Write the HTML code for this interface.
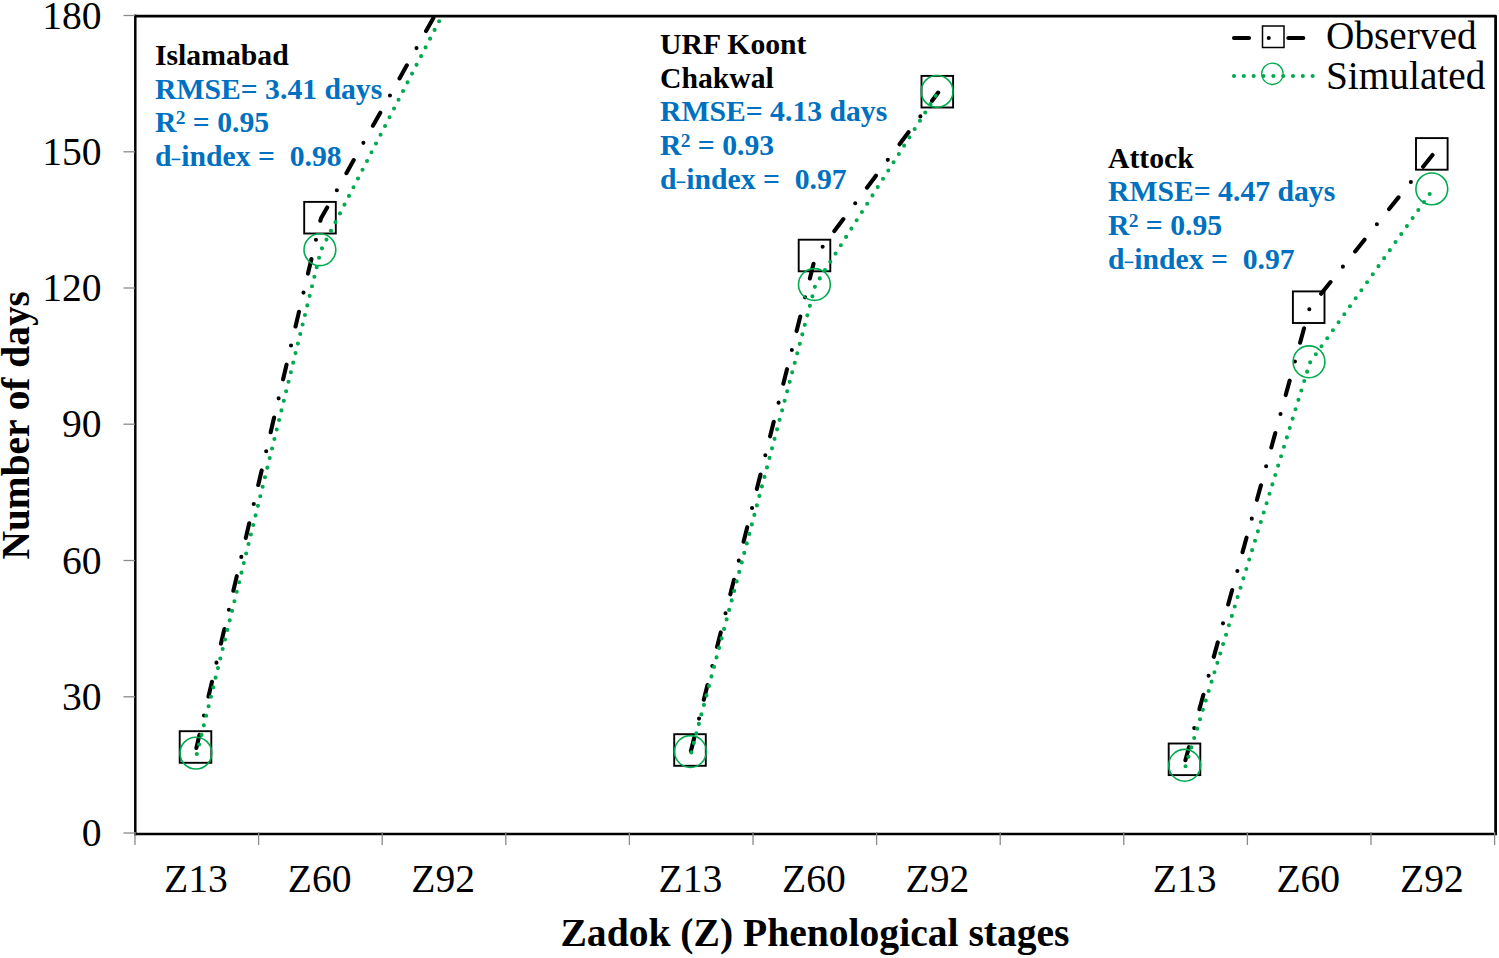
<!DOCTYPE html>
<html><head><meta charset="utf-8"><title>Chart</title>
<style>
html,body{margin:0;padding:0;background:#fff;overflow:hidden;}
svg{display:block;}
text{font-family:"Liberation Serif",serif;}
</style></head><body>
<svg width="1499" height="958" viewBox="0 0 1499 958">
<rect x="0" y="0" width="1499" height="958" fill="#fff"/>
<defs><clipPath id="pc"><rect x="135" y="16" width="1360.5" height="818"/></clipPath></defs>

<g fill="none" stroke="#000">
<path d="M134,16 H1495.6 V835" stroke-width="2.75" stroke-linejoin="round"/>
<line x1="135.3" y1="14.7" x2="135.3" y2="835.2" stroke-width="2.5"/>
<line x1="134" y1="834" x2="1497" y2="834" stroke-width="2.3"/>
</g>
<g stroke="#8a8a8a" stroke-width="1.3">
<line x1="123.5" y1="833.0" x2="135" y2="833.0"/>
<line x1="123.5" y1="696.8" x2="135" y2="696.8"/>
<line x1="123.5" y1="560.5" x2="135" y2="560.5"/>
<line x1="123.5" y1="424.2" x2="135" y2="424.2"/>
<line x1="123.5" y1="288.0" x2="135" y2="288.0"/>
<line x1="123.5" y1="151.8" x2="135" y2="151.8"/>
<line x1="123.5" y1="15.5" x2="135" y2="15.5"/>
<line x1="135.0" y1="832" x2="135.0" y2="845"/>
<line x1="258.6" y1="832" x2="258.6" y2="845"/>
<line x1="382.2" y1="832" x2="382.2" y2="845"/>
<line x1="505.8" y1="832" x2="505.8" y2="845"/>
<line x1="629.4" y1="832" x2="629.4" y2="845"/>
<line x1="753.0" y1="832" x2="753.0" y2="845"/>
<line x1="876.6" y1="832" x2="876.6" y2="845"/>
<line x1="1000.2" y1="832" x2="1000.2" y2="845"/>
<line x1="1123.8" y1="832" x2="1123.8" y2="845"/>
<line x1="1247.4" y1="832" x2="1247.4" y2="845"/>
<line x1="1371.0" y1="832" x2="1371.0" y2="845"/>
<line x1="1494.6" y1="832" x2="1494.6" y2="845"/>
</g>
<g font-size="39.6" text-anchor="end" fill="#000">
<text x="101.6" y="846.2">0</text>
<text x="101.6" y="710.0">30</text>
<text x="101.6" y="573.7">60</text>
<text x="101.6" y="437.4">90</text>
<text x="101.6" y="301.2">120</text>
<text x="101.6" y="164.9">150</text>
<text x="101.6" y="28.7">180</text>
</g>
<g font-size="39.6" text-anchor="middle" fill="#000">
<text x="196.0" y="891.5">Z13</text>
<text x="319.6" y="891.5">Z60</text>
<text x="443.2" y="891.5">Z92</text>
<text x="690.4" y="891.5">Z13</text>
<text x="814.0" y="891.5">Z60</text>
<text x="937.5" y="891.5">Z92</text>
<text x="1184.7" y="891.5">Z13</text>
<text x="1308.3" y="891.5">Z60</text>
<text x="1431.9" y="891.5">Z92</text>
</g>
<text x="815" y="945.7" font-size="39.6" font-weight="bold" text-anchor="middle">Zadok (Z) Phenological stages</text>
<text transform="translate(29,425.3) rotate(-90)" font-size="39.4" font-weight="bold" text-anchor="middle">Number of days</text>
<g clip-path="url(#pc)">
<polyline points="196.4,747.9 320.9,218.6 444.5,-1.8" fill="none" stroke="#000" stroke-width="4.1" stroke-linecap="round" stroke-linejoin="round" stroke-dasharray="15 19.75 0 19.55" stroke-dashoffset="1.45"/>
<rect x="179.7" y="731.2" width="31.6" height="31.6" fill="none" stroke="#000" stroke-width="1.9"/>
<rect x="304.2" y="201.9" width="31.6" height="31.6" fill="none" stroke="#000" stroke-width="1.9"/>
<polyline points="690.9,750.9 815.4,256.4 938.2,92.6" fill="none" stroke="#000" stroke-width="4.1" stroke-linecap="round" stroke-linejoin="round" stroke-dasharray="15 19.75 0 19.55" stroke-dashoffset="1.45"/>
<rect x="674.2" y="734.2" width="31.6" height="31.6" fill="none" stroke="#000" stroke-width="1.9"/>
<rect x="798.7" y="239.7" width="31.6" height="31.6" fill="none" stroke="#000" stroke-width="1.9"/>
<rect x="921.5" y="75.9" width="31.6" height="31.6" fill="none" stroke="#000" stroke-width="1.9"/>
<polyline points="1185.4,760.2 1309.6,308.1 1432.7,154.8" fill="none" stroke="#000" stroke-width="4.1" stroke-linecap="round" stroke-linejoin="round" stroke-dasharray="15 19.75 0 19.55" stroke-dashoffset="1.45"/>
<rect x="1168.7" y="743.5" width="31.6" height="31.6" fill="none" stroke="#000" stroke-width="1.9"/>
<rect x="1292.9" y="291.4" width="31.6" height="31.6" fill="none" stroke="#000" stroke-width="1.9"/>
<rect x="1416.0" y="138.1" width="31.6" height="31.6" fill="none" stroke="#000" stroke-width="1.9"/>
<polyline points="196.8,754.0 320.8,250.6 444.5,10.7" fill="none" stroke="#00aa4e" stroke-width="4.1" stroke-linecap="round" stroke-linejoin="round" stroke-dasharray="0 9.83"/>
<circle cx="195.9" cy="753.1" r="15.9" fill="none" stroke="#00aa4e" stroke-width="1.6"/>
<circle cx="319.9" cy="249.7" r="15.9" fill="none" stroke="#00aa4e" stroke-width="1.6"/>
<polyline points="691.3,752.4 815.3,285.4 938.0,92.3" fill="none" stroke="#00aa4e" stroke-width="4.1" stroke-linecap="round" stroke-linejoin="round" stroke-dasharray="0 9.83"/>
<circle cx="690.4" cy="751.5" r="15.9" fill="none" stroke="#00aa4e" stroke-width="1.6"/>
<circle cx="814.4" cy="284.5" r="15.9" fill="none" stroke="#00aa4e" stroke-width="1.6"/>
<circle cx="937.1" cy="91.4" r="15.9" fill="none" stroke="#00aa4e" stroke-width="1.6"/>
<polyline points="1185.5,766.2 1309.9,362.7 1432.7,189.8" fill="none" stroke="#00aa4e" stroke-width="4.1" stroke-linecap="round" stroke-linejoin="round" stroke-dasharray="0 9.83"/>
<circle cx="1184.6" cy="765.3" r="15.9" fill="none" stroke="#00aa4e" stroke-width="1.6"/>
<circle cx="1309.0" cy="361.8" r="15.9" fill="none" stroke="#00aa4e" stroke-width="1.6"/>
<circle cx="1431.8" cy="188.9" r="15.9" fill="none" stroke="#00aa4e" stroke-width="1.6"/>
</g>
<text x="155" y="64.7" font-size="29.7" font-weight="bold" style="white-space:pre" fill="#000">Islamabad</text>
<text x="155" y="98.6" font-size="29.7" font-weight="bold" style="white-space:pre" fill="#0070c0">RMSE= 3.41 days</text>
<text x="155" y="132.4" font-size="29.7" font-weight="bold" style="white-space:pre" fill="#0070c0">R<tspan font-size="19.5" dx="-0.8" dy="-8.5">2</tspan><tspan dy="8.5"> = </tspan>0.95</text>
<text x="155" y="166.2" font-size="29.7" font-weight="bold" style="white-space:pre" fill="#0070c0">d<tspan dx="9.7">index =  0.98</tspan></text>
<rect x="171.7" y="158.60" width="8.7" height="1.6" fill="#0070c0"/>
<text x="660" y="53.7" font-size="29.7" font-weight="bold" style="white-space:pre" fill="#000">URF Koont</text>
<text x="660" y="87.6" font-size="29.7" font-weight="bold" style="white-space:pre" fill="#000">Chakwal</text>
<text x="660" y="121.4" font-size="29.7" font-weight="bold" style="white-space:pre" fill="#0070c0">RMSE= 4.13 days</text>
<text x="660" y="155.2" font-size="29.7" font-weight="bold" style="white-space:pre" fill="#0070c0">R<tspan font-size="19.5" dx="-0.8" dy="-8.5">2</tspan><tspan dy="8.5"> = </tspan>0.93</text>
<text x="660" y="189.1" font-size="29.7" font-weight="bold" style="white-space:pre" fill="#0070c0">d<tspan dx="9.7">index =  0.97</tspan></text>
<rect x="676.7" y="181.45" width="8.7" height="1.6" fill="#0070c0"/>
<text x="1108" y="167.6" font-size="29.7" font-weight="bold" style="white-space:pre" fill="#000">Attock</text>
<text x="1108" y="201.4" font-size="29.7" font-weight="bold" style="white-space:pre" fill="#0070c0">RMSE= 4.47 days</text>
<text x="1108" y="235.3" font-size="29.7" font-weight="bold" style="white-space:pre" fill="#0070c0">R<tspan font-size="19.5" dx="-0.8" dy="-8.5">2</tspan><tspan dy="8.5"> = </tspan>0.95</text>
<text x="1108" y="269.1" font-size="29.7" font-weight="bold" style="white-space:pre" fill="#0070c0">d<tspan dx="9.7">index =  0.97</tspan></text>
<rect x="1124.7" y="261.50" width="8.7" height="1.6" fill="#0070c0"/>
<line x1="1234" y1="38" x2="1303.3" y2="38" stroke="#000" stroke-width="4.1" stroke-linecap="round" stroke-dasharray="15 19.75 0 19.55"/>
<rect x="1262.5" y="26" width="21.5" height="21.5" fill="none" stroke="#000" stroke-width="1.5"/>
<line x1="1234" y1="76" x2="1313" y2="76" stroke="#00aa4e" stroke-width="4.1" stroke-linecap="round" stroke-dasharray="0 9.83"/>
<circle cx="1272.4" cy="73.8" r="10.7" fill="none" stroke="#00aa4e" stroke-width="1.3"/>
<text x="1326" y="49" font-size="39.3">Observed</text>
<text x="1326" y="88.5" font-size="39.3">Simulated</text>
</svg></body></html>
